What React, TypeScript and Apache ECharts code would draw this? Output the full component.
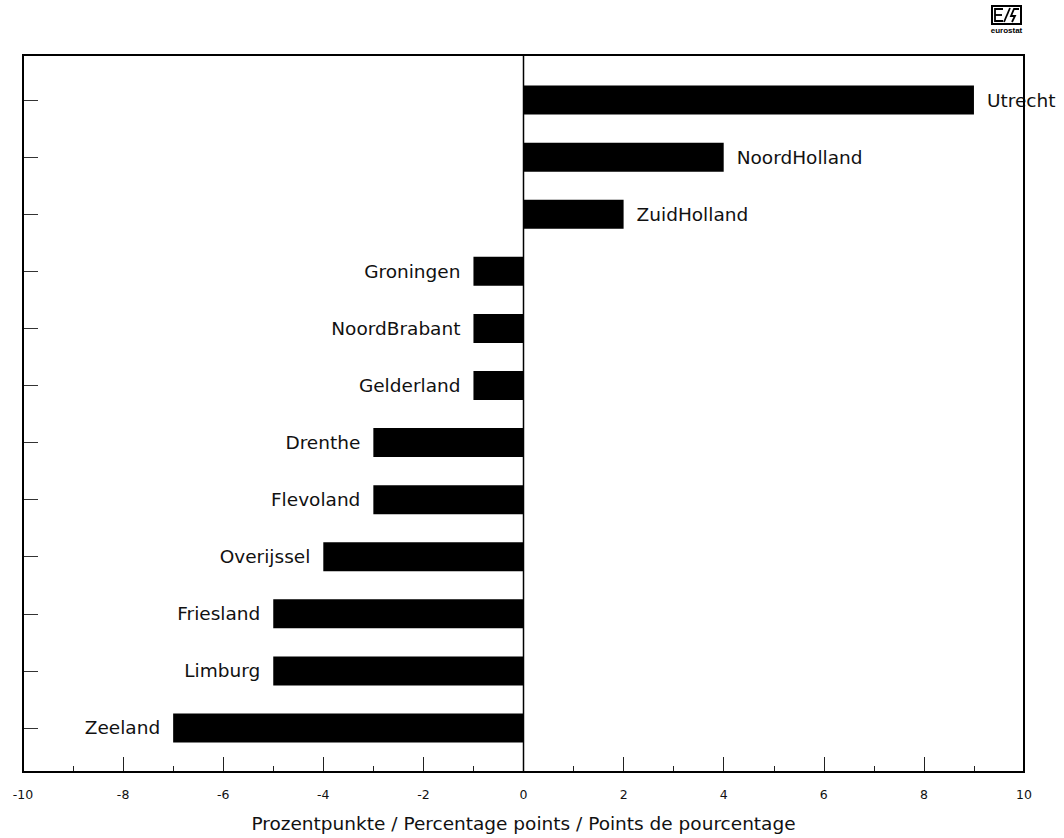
import React, { useEffect, useRef } from "react";
import * as echarts from "echarts";

const regions = [
  "Utrecht",
  "NoordHolland",
  "ZuidHolland",
  "Groningen",
  "NoordBrabant",
  "Gelderland",
  "Drenthe",
  "Flevoland",
  "Overijssel",
  "Friesland",
  "Limburg",
  "Zeeland",
];
const values = [9, 4, 2, -1, -1, -1, -3, -3, -4, -5, -5, -7];
const xMin = -10;
const xMax = 10;
const xInterval = 2;
const axisTitle = "Prozentpunkte / Percentage points / Points de pourcentage";

const FONT = "'DejaVu Sans', 'Liberation Sans', Arial, sans-serif";

export default function App() {
  const ref = useRef<HTMLDivElement>(null);
  useEffect(() => {
    if (!ref.current) return;
    const chart = echarts.init(ref.current, null, { renderer: "svg" });
    const frame = { x: 23, y: 55, w: 1001, h: 717 };
    chart.setOption({
      animation: false,
      backgroundColor: "#ffffff",
      grid: {
        left: 23,
        right: 40,
        top: 71.5,
        bottom: 81.5,
        containLabel: false,
      },
      xAxis: {
        type: "value",
        min: xMin,
        max: xMax,
        interval: xInterval,
        offset: 15.5,
        axisLine: { show: false, onZero: false },
        axisTick: {
          show: true,
          inside: true,
          length: 15,
          lineStyle: { color: "#222", width: 1 },
        },
        minorTick: {
          show: true,
          splitNumber: 2,
          length: 6,
          lineStyle: { color: "#222", width: 1 },
        },
        splitLine: { show: false },
        axisLabel: {
          margin: 16,
          color: "#111",
          fontSize: 12.5,
          fontFamily: FONT,
          formatter: (v: number) => String(v),
        },
        name: axisTitle,
        nameLocation: "middle",
        nameGap: 42,
        nameTextStyle: { color: "#111", fontSize: 18.5, fontFamily: FONT },
      },
      yAxis: {
        type: "category",
        data: regions,
        inverse: true,
        axisLine: { show: false, onZero: false },
        axisTick: {
          show: true,
          inside: true,
          alignWithLabel: true,
          length: 15,
          lineStyle: { color: "#333", width: 1 },
        },
        axisLabel: { show: false },
        splitLine: { show: false },
      },
      series: [
        {
          type: "bar",
          barWidth: 29,
          itemStyle: { color: "#000" },
          data: values.map((v) => ({
            value: v,
            label: {
              show: true,
              position: v >= 0 ? "right" : "left",
              distance: 13,
              formatter: (p: any) => regions[p.dataIndex],
              color: "#111",
              fontSize: 18.5,
              fontFamily: FONT,
            },
          })),
        },
      ],
    });
    const x0 = chart.convertToPixel({ xAxisIndex: 0 }, 0) as number;
    chart.setOption({
      graphic: [
        {
          type: "rect",
          shape: { x: frame.x, y: frame.y, width: frame.w, height: frame.h },
          style: { fill: "none", stroke: "#000", lineWidth: 2 },
          z: 10,
        },
        {
          type: "line",
          shape: { x1: x0, y1: frame.y, x2: x0, y2: frame.y + frame.h },
          style: { stroke: "#000", lineWidth: 1.5 },
          z: 10,
        },
        {
          type: "group",
          x: 992,
          y: 6,
          children: [
            {
              type: "rect",
              shape: { x: 0, y: 0, width: 29, height: 18 },
              style: { fill: "none", stroke: "#000", lineWidth: 2 },
            },
            {
              type: "polyline",
              shape: { points: [[11, 3], [3, 3], [3, 15], [11, 15]] },
              style: { fill: "none", stroke: "#000", lineWidth: 1.8 },
            },
            {
              type: "line",
              shape: { x1: 3, y1: 9, x2: 10, y2: 9 },
              style: { stroke: "#000", lineWidth: 1.8 },
            },
            {
              type: "line",
              shape: { x1: 12, y1: 16, x2: 18, y2: 2 },
              style: { stroke: "#000", lineWidth: 1.8 },
            },
            {
              type: "polyline",
              shape: { points: [[27, 3], [22, 3], [19, 10], [23, 10], [20, 16]] },
              style: { fill: "none", stroke: "#000", lineWidth: 1.8 },
            },
            {
              type: "text",
              x: 14.5,
              y: 20,
              style: {
                text: "eurostat",
                fontSize: 8,
                fontWeight: "bold",
                fontFamily: "'Liberation Sans', Arial, sans-serif",
                fill: "#000",
                align: "center",
                verticalAlign: "top",
              },
            },
          ],
        },
      ],
    });
    return () => chart.dispose();
  }, []);
  return <div ref={ref} style={{ width: 1064, height: 838, position: "absolute", left: 0, top: 0 }} />;
}
